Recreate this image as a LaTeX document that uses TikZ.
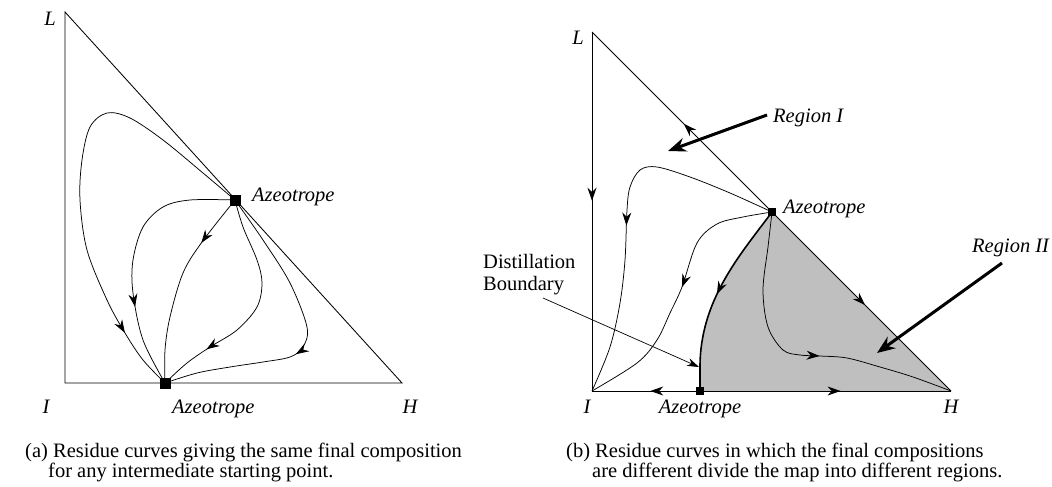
\documentclass[tikz,border=0pt]{standalone}
\usepackage{fontspec}
\setmainfont{Liberation Serif}
\usetikzlibrary{arrows.meta,decorations.markings}
\tikzset{
  edgeline/.style={line width=0.85pt},
  rcurve/.style={line width=0.75pt},
  midarr/.style={postaction={decorate,decoration={markings,mark=at position #1 with {\arrow{Stealth[length=13pt,width=9pt]}}}}},
  lbl/.style={font=\fontsize{20.5}{22}\selectfont\itshape, inner sep=0pt},
  captxt/.style={font=\fontsize{20.5}{22}\selectfont, inner sep=0pt, anchor=base west},
  azsq/.style={fill=black, inner sep=0pt, minimum size=#1, draw=none},
  regarr/.style={line width=3pt, -{Stealth[length=18pt,width=14pt]}},
  ptrline/.style={line width=0.7pt, -{Stealth[length=12pt,width=8pt]}},
}
\begin{document}
\begin{tikzpicture}[x=1pt,y=-1pt]
\useasboundingbox (0,0) rectangle (1052,487);
% ---------------- left panel ----------------
\coordinate (L1) at (65,12);
\coordinate (I1) at (65,383);
\coordinate (H1) at (402,383);
\draw[edgeline] (I1) -- (L1) -- (H1) -- cycle;
\node[azsq=11pt] (azT1) at (235,200) {};
\node[azsq=11pt] (azB1) at (165,383) {};
\draw[rcurve, midarr=0.86] plot[smooth, tension=0.55] coordinates {(azT1.center) (203,173) (163,140) (130,118) (107,113) (90,127) (82,160) (80,200) (87,250) (107,300) (125,333) (143,360) (azB1.center)};
\draw[rcurve, midarr=0.69] plot[smooth, tension=0.55] coordinates {(azT1.center) (190,200) (163,207) (143,227) (133,260) (133,293) (143,340) (azB1.center)};
\draw[rcurve, midarr=0.27] plot[smooth, tension=0.55] coordinates {(azT1.center) (202,242) (183,273) (170,317) (165,350) (azB1.center)};
\draw[rcurve, midarr=0.77] plot[smooth, tension=0.55] coordinates {(azT1.center) (243,227) (257,260) (262,283) (257,307) (237,330) (210,347) (187,363) (azB1.center)};
\draw[rcurve, midarr=0.57] plot[smooth, tension=0.55] coordinates {(azT1.center) (263,240) (290,283) (307,327) (303,347) (290,357) (263,362) (230,367) (197,373) (azB1.center)};
\node[azsq=11pt] at (azT1) {};
\node[azsq=11pt] at (azB1) {};
\node[lbl, anchor=base] (lL1) at (50,26) {L};
\node[lbl, anchor=base] (lI1) at (46,413) {I};
\node[lbl, anchor=base] (lH1) at (410,413) {H};
\node[lbl, anchor=base west] (lAB1) at (172,413) {Azeotrope};
\node[lbl, anchor=base west] (lAT1) at (252,201) {Azeotrope};
% ---------------- right panel ----------------
\coordinate (L2) at (592,32);
\coordinate (I2) at (592,391);
\coordinate (H2) at (951,391);
\node[azsq=8pt] (azT2) at (772,212) {};
\node[azsq=8pt] (azB2) at (700,391) {};
\fill[black!25] (azT2.center) -- (H2) -- (azB2.center) -- (700,367) .. controls (700,300) and (740,255) .. (azT2.center);
\draw[edgeline, midarr=0.47] (L2) -- (I2);
\draw[edgeline, midarr=0.49] (azT2.center) -- (L2);
\draw[edgeline, midarr=0.52] (azT2.center) -- (H2);
\draw[edgeline, midarr=0.46] (azB2.center) -- (I2);
\draw[edgeline, midarr=0.56] (azB2.center) -- (H2);
\draw[line width=1.6pt, midarr=0.5] (azT2.center) .. controls (740,255) and (700,300) .. (700,367) -- (azB2.center);
\draw[rcurve, midarr=0.54] plot[smooth, tension=0.55] coordinates {(azT2.center) (730,193) (690,177) (657,167) (640,170) (630,187) (627,210) (625,260) (620,303) (610,347) (I2)};
\draw[rcurve, midarr=0.48] plot[smooth, tension=0.55] coordinates {(azT2.center) (743,217) (717,224) (697,243) (682,287) (670,313) (657,340) (637,363) (I2)};
\draw[rcurve, midarr=0.57] plot[smooth, tension=0.55] coordinates {(azT2.center) (768,247) (763,290) (768,327) (783,350) (800,355) (820,356) (847,358) (880,367) (913,377) (H2)};
\node[azsq=8pt] at (azT2) {};
\node[azsq=8pt] at (azB2) {};
\node[lbl, anchor=base] (lL2) at (578,45) {L};
\node[lbl, anchor=base] (lI2) at (587,413) {I};
\node[lbl, anchor=base] (lH2) at (951,413) {H};
\node[lbl, anchor=base] (lAB2) at (700,413) {Azeotrope};
\node[lbl, anchor=base west] (lAT2) at (783,213) {Azeotrope};
\node[lbl, anchor=base west] (lR1) at (773,122) {Region I};
\node[lbl, anchor=base west] (lR2) at (972,252) {Region II};
\node[captxt] (lD1) at (483,268) {Distillation};
\node[captxt] (lD2) at (483,290) {Boundary};
\coordinate (r1s) at (767,115);
\coordinate (r1e) at (668,151);
\coordinate (r2s) at (1002,263);
\coordinate (r2e) at (877,353);
\coordinate (dbs) at (543,298);
\coordinate (dbe) at (699,367);
\draw[regarr] (r1s) -- (r1e);
\draw[regarr] (r2s) -- (r2e);
\draw[ptrline] (dbs) -- (dbe);
% ---------------- captions ----------------
\node[captxt] (capA1) at (25,457) {(a) Residue curves giving the same final composition};
\node[captxt] (capA2) at (48,477) {for any intermediate starting point.};
\node[captxt] (capB1) at (566,457) {(b) Residue curves in which the final compositions};
\node[captxt] (capB2) at (592,477) {are different divide the map into different regions.};
\end{tikzpicture}
\end{document}
